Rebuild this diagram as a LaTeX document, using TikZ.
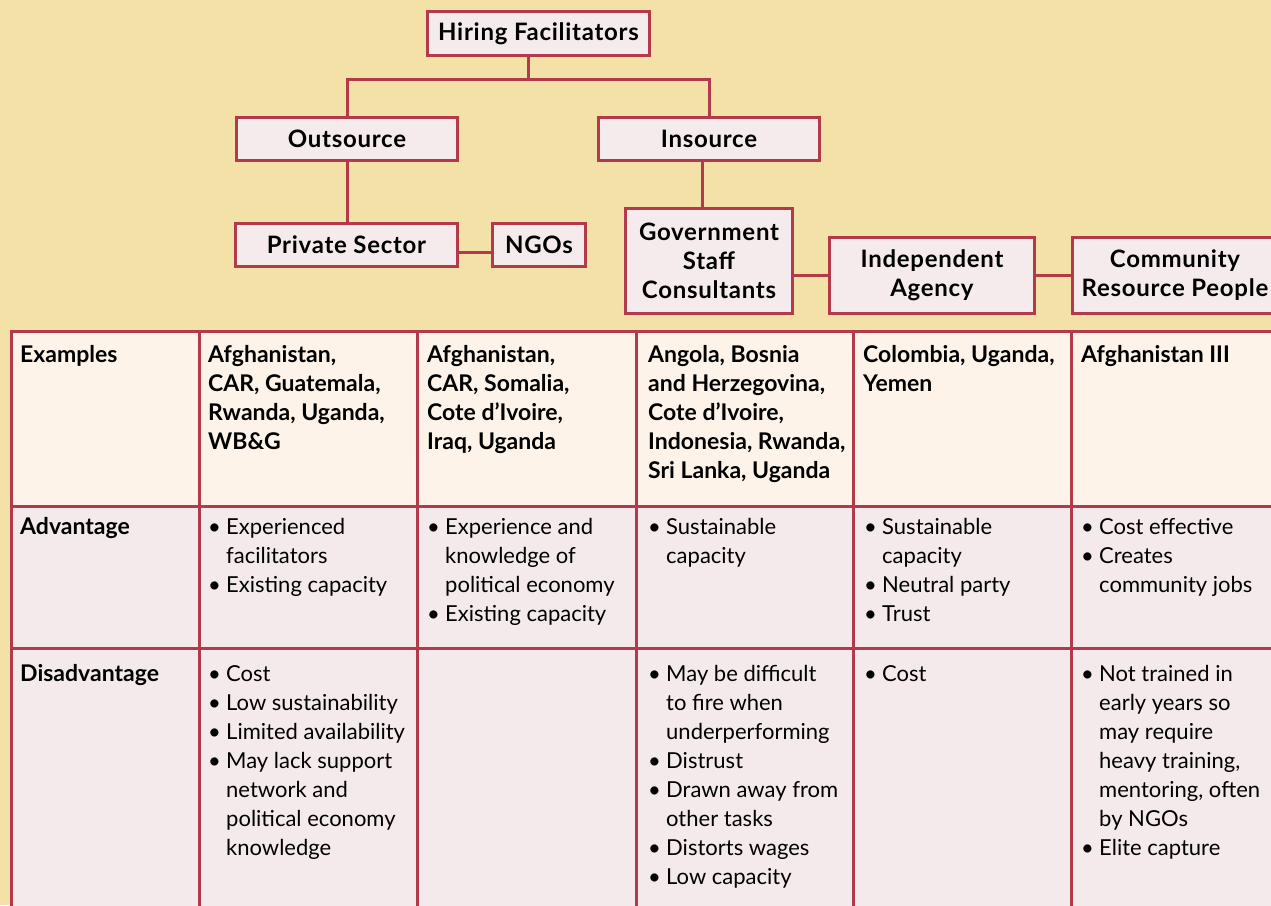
\documentclass[tikz,border=0pt]{standalone}
\usepackage{fontspec}
\setmainfont{Lato}
\newfontfamily\hdrfam{Lato}[LetterSpace=3]
\definecolor{bgtan}{HTML}{F4E1A8}
\definecolor{frame}{HTML}{B23A4A}
\definecolor{boxfill}{HTML}{F5EBEC}
\definecolor{exfill}{HTML}{FDF3E8}
\definecolor{rowfill}{HTML}{F5EAEB}
\newcommand{\hdrfont}{\hdrfam\fontsize{24}{29}\selectfont\bfseries}
\newcommand{\cl}[1]{\parbox[t]{260pt}{\raggedright\fontsize{22}{29}\selectfont #1}}
\newcommand{\bd}{\fontsize{23}{29}\selectfont\bfseries}
\newcommand{\bi}[1]{\par\hangindent=18pt\hangafter=1\noindent\makebox[18pt][l]{\textbullet}{\let\\\newline #1}}
\begin{document}
\begin{tikzpicture}[x=1pt,y=-1pt,
  box/.style={draw=frame, line width=3pt, fill=boxfill, align=center, inner sep=0pt, font=\hdrfont},
  conn/.style={draw=frame, line width=3pt},
  grid/.style={draw=frame, line width=3pt},
  cell/.style={anchor=base west, inner sep=0pt}]
\useasboundingbox (0,0) rectangle (1271,905);
\clip (0,0) rectangle (1271,905);
\fill[bgtan] (0,0) rectangle (1271,905);

% table backgrounds
\fill[exfill] (11,331) rectangle (1290,506);
\fill[rowfill] (11,506) rectangle (1290,920);
\draw[grid] (11,920) -- (11,331) -- (1290,331);
\draw[grid] (11,506) -- (1290,506);
\draw[grid] (11,648) -- (1290,648);
\foreach \cx in {199,417,636,853,1071} {\draw[grid] (\cx,331) -- (\cx,920);}

% header boxes
\node[box, minimum width=222pt, minimum height=44pt] (hire) at (538.5,33.5) {Hiring Facilitators};
\node[box, minimum width=221pt, minimum height=43pt] (out) at (347,139) {Outsource};
\node[box, minimum width=221pt, minimum height=43pt] (ins) at (709,139) {Insource};
\node[box, minimum width=222pt, minimum height=43pt] (priv) at (346.5,245) {Private Sector};
\node[box, minimum width=93pt, minimum height=43pt] (ngo) at (539,245) {NGOs};
\node[box, minimum width=167pt, minimum height=105pt] (gov) at (709,261) {Government\\Staff\\Consultants};
\node[box, minimum width=205pt, minimum height=76pt] (ind) at (932,275.5) {Independent\\Agency};
\node[box, minimum width=205pt, minimum height=76pt] (com) at (1175,275.5) {Community\\Resource People};

% connectors
\coordinate (j1) at (528,79);
\coordinate (j2) at (702,0);
\coordinate (j3) at (0,252);
\draw[conn] (hire.south -| j1) -- (j1);
\draw[conn] (out.north) -- (out.north |- j1) -- (ins.north |- j1) -- (ins.north);
\draw[conn] (out.south) -- (out.south |- priv.north);
\draw[conn] (ins.south -| j2) -- (gov.north -| j2);
\draw[conn] (priv.east |- j3) -- (ngo.west |- j3);
\draw[conn] (gov.east |- ind.west) -- (ind.west);
\draw[conn] (ind.east) -- (com.west);

% row labels
\node[cell] (lex) at (20,362) {\cl{\bd Examples}};
\node[cell] (lad) at (20,534) {\cl{\bd Advantage}};
\node[cell] (ldis) at (20,681) {\cl{\bd Disadvantage}};

% examples
\node[cell] (e2) at (208,362) {\cl{\bd Afghanistan,\\CAR, Guatemala,\\Rwanda, Uganda,\\WB\&G}};
\node[cell] (e3) at (427,362) {\cl{\bd Afghanistan,\\CAR, Somalia,\\Cote d’Ivoire,\\Iraq, Uganda}};
\node[cell] (e4) at (648,362) {\cl{\bd Angola, Bosnia\\and Herzegovina,\\Cote d’Ivoire,\\Indonesia, Rwanda,\\Sri Lanka, Uganda}};
\node[cell] (e5) at (863,362) {\cl{\bd Colombia, Uganda,\\Yemen}};
\node[cell] (e6) at (1081,362) {\cl{\bd Afghanistan III}};

% advantages
\node[cell] (a2) at (208,534) {\cl{\bi{Experienced\\facilitators}\bi{Existing capacity}}};
\node[cell] (a3) at (427,534) {\cl{\bi{Experience and\\knowledge of\\political economy}\bi{Existing capacity}}};
\node[cell] (a4) at (648,534) {\cl{\bi{Sustainable\\capacity}}};
\node[cell] (a5) at (864,534) {\cl{\bi{Sustainable\\capacity}\bi{Neutral party}\bi{Trust}}};
\node[cell] (a6) at (1081,534) {\cl{\bi{Cost effective}\bi{Creates\\community jobs}}};

% disadvantages
\node[cell] (d2) at (208,681) {\cl{\bi{Cost}\bi{Low sustainability}\bi{Limited availability}\bi{May lack support\\network and\\political economy\\knowledge}}};
\node[cell] (d4) at (648,681) {\cl{\bi{May be difficult\\to fire when\\underperforming}\bi{Distrust}\bi{Drawn away from\\other tasks}\bi{Distorts wages}\bi{Low capacity}}};
\node[cell] (d5) at (864,681) {\cl{\bi{Cost}}};
\node[cell] (d6) at (1081,681) {\cl{\bi{Not trained in\\early years so\\may require\\heavy training,\\mentoring, often\\by NGOs}\bi{Elite capture}}};
\end{tikzpicture}
\end{document}
